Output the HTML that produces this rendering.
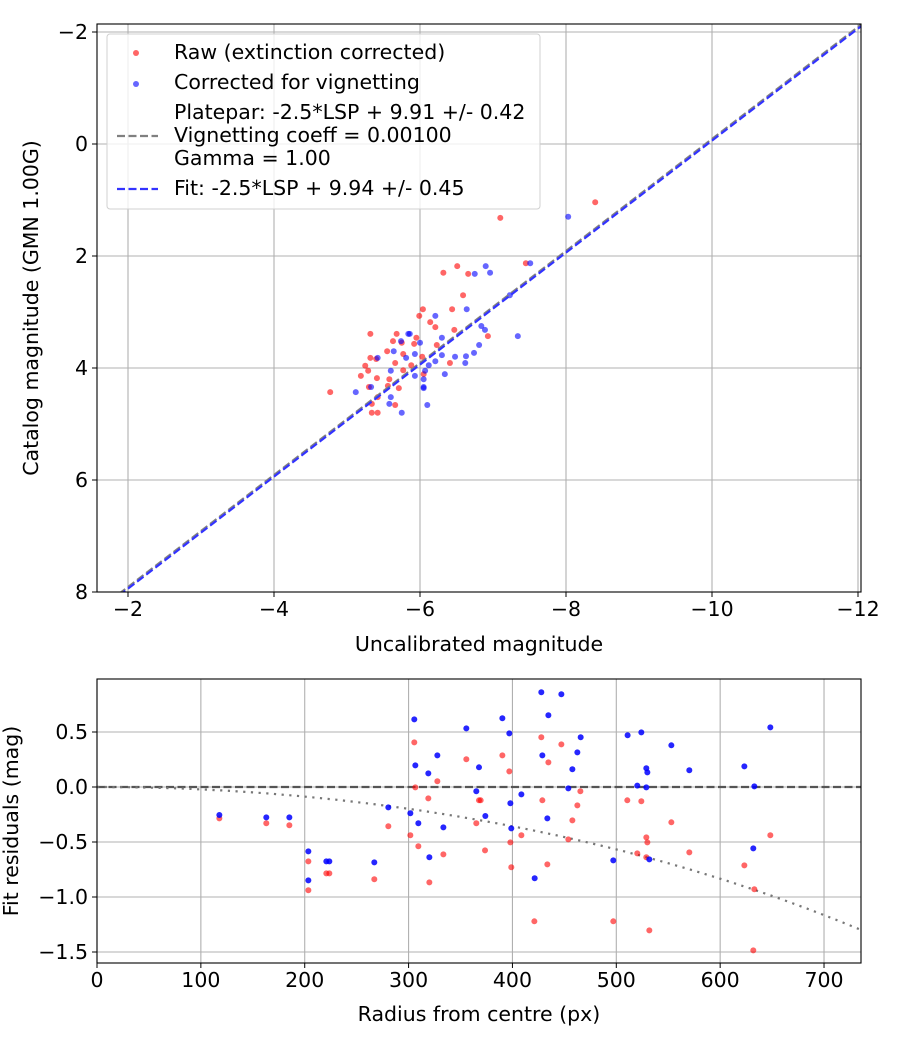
<!DOCTYPE html>
<html><head><meta charset="utf-8"><style>
html,body{margin:0;padding:0;background:#fff;}
svg{display:block;font-family:"DejaVu Sans","Liberation Sans",sans-serif;}
</style></head><body>
<svg id="fig" width="900" height="1050" xmlns="http://www.w3.org/2000/svg"></svg>
<script>
// ---- top chart data ----
const rawX=[-4.77,-5.32,-5.68,-5.63,-5.55,-5.32,-5.40,-5.25,-5.29,-5.19,-5.41,-5.58,-5.30,-5.56,-5.71,-5.42,-5.34,-5.34,-5.42,-5.66,-5.77,-5.75,-5.95,-5.92,-6.03,-5.66,-5.77,-5.88,-6.05,-5.99,-6.04,-6.14,-6.21,-6.23,-6.32,-6.51,-6.66,-6.59,-6.44,-6.47,-6.41,-6.93,-7.45,-7.10,-8.40];
const rawY=[4.43,3.39,3.39,3.52,3.70,3.82,3.84,3.96,4.05,4.14,4.18,4.20,4.34,4.32,4.36,4.52,4.64,4.80,4.80,4.66,3.75,3.55,3.46,3.57,3.80,3.91,4.04,3.95,4.11,3.07,2.95,3.18,3.27,3.59,2.30,2.18,2.32,2.70,2.95,3.32,3.91,3.43,2.13,1.32,1.04];
const corX=[-6.90,-6.75,-6.96,-7.23,-6.64,-6.21,-6.84,-6.89,-7.34,-6.81,-6.74,-6.63,-6.62,-6.48,-6.30,-6.30,-6.21,-6.12,-6.07,-6.34,-6.05,-6.05,-6.05,-6.10,-5.93,-6.00,-5.86,-5.84,-5.74,-5.64,-5.42,-5.81,-5.93,-5.60,-5.33,-5.12,-5.60,-5.58,-5.75,-7.51,-8.03];
const corY=[2.18,2.32,2.30,2.70,2.95,3.07,3.25,3.32,3.43,3.59,3.73,3.79,3.91,3.80,3.77,3.46,3.88,3.95,4.05,4.11,4.20,4.34,4.36,4.66,4.14,3.55,3.39,3.39,3.52,3.70,3.82,3.82,3.75,4.05,4.34,4.43,4.52,4.64,4.80,2.13,1.30];
const topXTicks=[-2,-4,-6,-8,-10,-12];
const topYTicks=[-2,0,2,4,6,8];
const plateparZP=9.91, fitZP=9.94;
// ---- bottom chart data ----
const resR=[117.8,163.0,185.2,203.5,203.5,220.8,223.7,267.0,280.5,301.7,309.4,333.5,305.5,306.5,319.0,327.7,320.0,355.6,367.8,365.2,390.3,397.0,427.8,447.1,434.6,428.8,462.5,465.7,457.7,453.8,408.6,398.0,373.9,398.9,433.6,421.4,497.1,510.9,524.1,553.0,528.9,529.9,570.3,520.2,528.9,531.8,623.3,632.9,648.3,631.9];
const resCor=[-0.255,-0.276,-0.276,-0.585,-0.849,-0.676,-0.676,-0.685,-0.185,-0.239,-0.330,-0.367,0.615,0.197,0.124,0.288,-0.639,0.533,0.179,-0.039,0.625,0.488,0.861,0.843,0.652,0.288,0.315,0.452,0.161,-0.012,-0.067,-0.148,-0.264,-0.376,-0.285,-0.830,-0.667,0.470,0.497,0.379,0.170,0.133,0.152,0.012,-0.003,-0.658,0.188,0.006,0.542,-0.558];
const rawR=[117.8,163.0,185.2,203.5,203.5,220.8,223.7,267.0,280.5,301.7,309.4,333.5,305.5,306.5,319.0,327.7,320.0,355.6,367.8,365.2,390.3,397.0,427.8,447.1,434.6,369.4,428.8,462.5,465.4,457.7,408.6,398.0,373.6,398.9,433.6,453.8,421.1,497.1,510.6,524.1,553.0,528.9,529.9,570.3,520.2,528.9,531.8,623.3,632.9,648.3,631.9];
const rawRes=[-0.285,-0.330,-0.348,-0.676,-0.939,-0.785,-0.785,-0.839,-0.357,-0.439,-0.539,-0.612,0.406,-0.003,-0.103,0.052,-0.867,0.252,-0.121,-0.330,0.288,0.142,0.452,0.388,0.224,-0.121,-0.121,-0.167,-0.039,-0.303,-0.439,-0.503,-0.576,-0.730,-0.703,-0.476,-1.221,-1.221,-0.121,-0.130,-0.321,-0.458,-0.503,-0.594,-0.603,-0.639,-1.303,-0.712,-0.930,-0.439,-1.485];
const botXTicks=[0,100,200,300,400,500,600,700];
const botYTicks=[0.5,0.0,-0.5,-1.0,-1.5];
const vignCoeff=0.001;

const NS="http://www.w3.org/2000/svg";
const svg=document.getElementById('fig');
const FS=20.5;
function mk(tag,attrs,parent){const e=document.createElementNS(NS,tag);for(const k in attrs)e.setAttribute(k,attrs[k]);(parent||svg).appendChild(e);return e;}
function fmt(v,d){const s=v.toFixed(d);return (v<0?'\u2212'+s.slice(1):s);}

const T={l:97,r:861,t:24,b:592};
const tx=v=>128+(-2-v)*73;
const ty=v=>144+v*56;
const B={l:97,r:861,t:679,b:963};
const bx=v=>97+v*1.0386;
const by=v=>787-v*110;

// --- top chart ---
const gTop=mk('g',{});


mk('clipPath',{id:'ct'},gTop);
mk('rect',{x:T.l,y:T.t,width:T.r-T.l,height:T.b-T.t},document.getElementById('ct'));
topXTicks.forEach(v=>{const l=mk('line',{x1:tx(v),x2:tx(v),y1:T.t,y2:T.b,stroke:'#b0b0b0','stroke-width':1.1},gTop);});
topYTicks.forEach(v=>{const l=mk('line',{x1:T.l,x2:T.r,y1:ty(v),y2:ty(v),stroke:'#b0b0b0','stroke-width':1.1},gTop);});
const pts=mk('g',{'clip-path':'url(#ct)'},gTop);
rawX.forEach((v,i)=>{const c=mk('circle',{cx:tx(v),cy:ty(rawY[i]),r:3,fill:'red','fill-opacity':0.6},pts);});
corX.forEach((v,i)=>{const c=mk('circle',{cx:tx(v),cy:ty(corY[i]),r:3,fill:'blue','fill-opacity':0.6},pts);});
const pp=mk('line',{x1:tx(-1.5),y1:ty(-1.5+plateparZP),x2:tx(-12.5),y2:ty(-12.5+plateparZP),stroke:'#808080','stroke-width':2.2,'stroke-dasharray':'8,3.5'},pts);

const fl=mk('line',{x1:tx(-1.5),y1:ty(-1.5+fitZP),x2:tx(-12.5),y2:ty(-12.5+fitZP),stroke:'#3333ff','stroke-width':2.2,'stroke-dasharray':'8,3.5'},pts);

mk('rect',{x:T.l,y:T.t,width:T.r-T.l,height:T.b-T.t,fill:'none',stroke:'#000','stroke-width':1.1},gTop);
topXTicks.forEach(v=>{mk('line',{x1:tx(v),x2:tx(v),y1:T.b,y2:T.b+5,stroke:'#000'},gTop);const t=mk('text',{x:tx(v),y:T.b+24,'text-anchor':'middle','font-size':FS},gTop);t.textContent=fmt(v,0);});
topYTicks.forEach(v=>{mk('line',{x1:T.l-5,x2:T.l,y1:ty(v),y2:ty(v),stroke:'#000'},gTop);const t=mk('text',{x:T.l-9,y:ty(v)+7,'text-anchor':'end','font-size':FS},gTop);t.textContent=fmt(v,0);});
let t1=mk('text',{x:479,y:651,'text-anchor':'middle','font-size':FS},gTop);t1.textContent='Uncalibrated magnitude';

let t2=mk('text',{x:38,y:308,'text-anchor':'middle','font-size':FS,transform:'rotate(-90 38 308)'},gTop);t2.textContent='Catalog magnitude (GMN 1.00G)';


// legend
const lg=mk('g',{},gTop);

mk('rect',{x:107,y:34,width:433,height:175,rx:3,fill:'#fff','fill-opacity':0.8,stroke:'#d0d0d0'},lg);
mk('circle',{cx:136,cy:53,r:3,fill:'red','fill-opacity':0.6},lg);
mk('circle',{cx:136,cy:84,r:3,fill:'blue','fill-opacity':0.6},lg);
mk('line',{x1:117,x2:158,y1:136,y2:136,stroke:'#808080','stroke-width':2.2,'stroke-dasharray':'8,3.5'},lg);
mk('line',{x1:117,x2:158,y1:189,y2:189,stroke:'#3333ff','stroke-width':2.2,'stroke-dasharray':'8,3.5'},lg);
[['Raw (extinction corrected)',59,'legend-entry-raw'],['Corrected for vignetting',89,'legend-entry-corrected'],['Platepar: -2.5*LSP + 9.91 +/- 0.42',119,'legend-entry-platepar'],['Vignetting coeff = 0.00100',142,'legend-entry-vignetting'],['Gamma = 1.00',165,'legend-entry-gamma'],['Fit: -2.5*LSP + 9.94 +/- 0.45',195,'legend-entry-fit']].forEach(a=>{const t=mk('text',{x:174,y:a[1],'font-size':FS},lg);t.textContent=a[0];});

// --- bottom chart ---
const gBot=mk('g',{});


mk('clipPath',{id:'cb'},gBot);
mk('rect',{x:B.l,y:B.t,width:B.r-B.l,height:B.b-B.t},document.getElementById('cb'));
botXTicks.forEach(v=>{const l=mk('line',{x1:bx(v),x2:bx(v),y1:B.t,y2:B.b,stroke:'#b0b0b0','stroke-width':1.1},gBot);});
botYTicks.forEach(v=>{const l=mk('line',{x1:B.l,x2:B.r,y1:by(v),y2:by(v),stroke:'#b0b0b0','stroke-width':1.1},gBot);});
const bp=mk('g',{'clip-path':'url(#cb)'},gBot);
const zl=mk('line',{x1:B.l,x2:B.r,y1:by(0),y2:by(0),stroke:'#555','stroke-width':2.2,'stroke-dasharray':'8,3.5'},bp);

let d='';for(let r=0;r<=740;r+=5){const y=2.5*Math.log10(Math.pow(Math.cos(r*vignCoeff),4));d+=(r?'L':'M')+bx(r).toFixed(1)+','+by(y).toFixed(1);}
const vc=mk('path',{d:d,fill:'none',stroke:'#777','stroke-width':2.2,'stroke-dasharray':'2.2,5.5'},bp);

rawR.forEach((v,i)=>{const c=mk('circle',{cx:bx(v),cy:by(rawRes[i]),r:3,fill:'red','fill-opacity':0.6},bp);});
resR.forEach((v,i)=>{const c=mk('circle',{cx:bx(v),cy:by(resCor[i]),r:3,fill:'blue','fill-opacity':0.85},bp);});
mk('rect',{x:B.l,y:B.t,width:B.r-B.l,height:B.b-B.t,fill:'none',stroke:'#000','stroke-width':1.1},gBot);
botXTicks.forEach(v=>{mk('line',{x1:bx(v),x2:bx(v),y1:B.b,y2:B.b+5,stroke:'#000'},gBot);const t=mk('text',{x:bx(v),y:B.b+24,'text-anchor':'middle','font-size':FS},gBot);t.textContent=String(v);});
botYTicks.forEach(v=>{mk('line',{x1:B.l-5,x2:B.l,y1:by(v),y2:by(v),stroke:'#000'},gBot);const t=mk('text',{x:B.l-9,y:by(v)+7,'text-anchor':'end','font-size':FS},gBot);t.textContent=fmt(v,1);});
let t3=mk('text',{x:479,y:1021,'text-anchor':'middle','font-size':FS},gBot);t3.textContent='Radius from centre (px)';

let t4=mk('text',{x:18,y:821,'text-anchor':'middle','font-size':FS,transform:'rotate(-90 18 821)'},gBot);t4.textContent='Fit residuals (mag)';

</script>
</body></html>
